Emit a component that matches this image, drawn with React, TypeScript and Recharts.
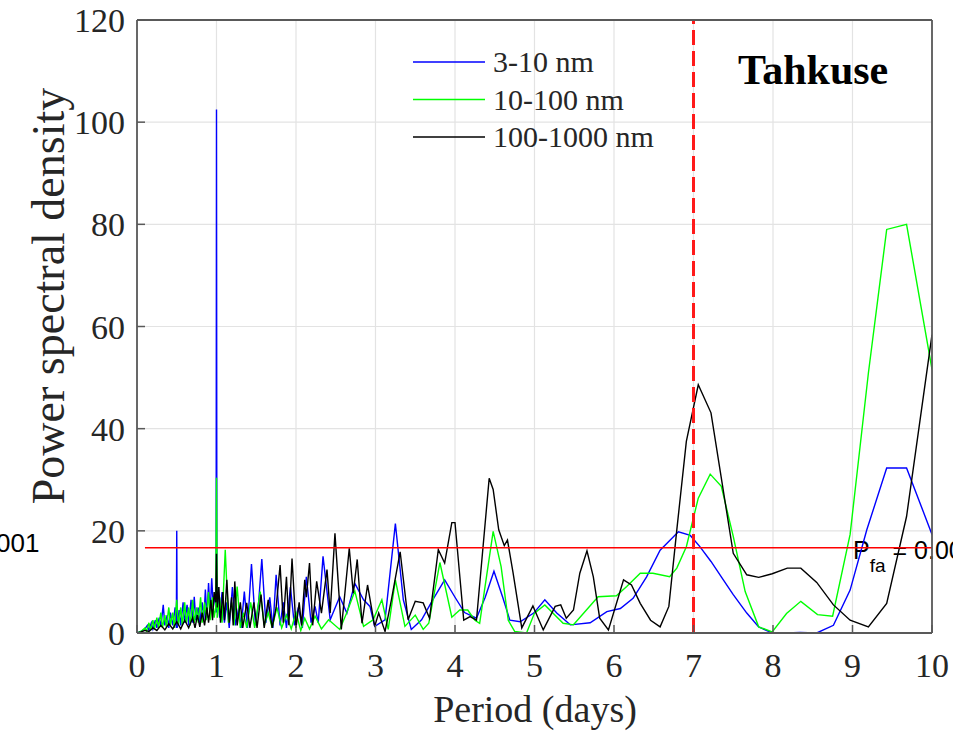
import React from "react";
import { LineChart, Line, XAxis, YAxis, CartesianGrid, ReferenceLine } from "recharts";

const PERIOD_TICKS = [0, 1, 2, 3, 4, 5, 6, 7, 8, 9, 10];
const PSD_TICKS = [0, 20, 40, 60, 80, 100, 120];
const PFA_LEVEL = 16.7;
const MARK_PERIOD = 7;
const SERIES_NAMES = ["3-10 nm", "10-100 nm", "100-1000 nm"];
const SERIES_COLORS = ["#0000ff", "#00ff00", "#000000"];
const TITLE = "Tahkuse";

const blue3to10: [number, number][] = [
  [0, 0], [0.05, 0.3], [0.1, 0.8], [0.13, 1.5], [0.15, 0.5], [0.18, 2.0], [0.2, 0.8], [0.23, 2.5], [0.25, 1.0],
  [0.28, 3.0], [0.3, 1.2], [0.33, 5.5], [0.35, 1.5], [0.38, 3.5], [0.4, 1.0], [0.42, 4.0], [0.45, 1.5], [0.48, 5.0],
  [0.495, 1.0], [0.5, 20], [0.505, 1.0], [0.53, 4.5], [0.55, 1.5], [0.58, 6.0], [0.6, 2.0], [0.63, 5.5], [0.65, 1.5],
  [0.68, 6.5], [0.7, 2.0], [0.72, 7.1], [0.74, 2.5], [0.77, 5.0], [0.79, 2.0], [0.82, 6.0], [0.84, 2.5], [0.86, 8.5],
  [0.88, 3.0], [0.9, 9.8], [0.92, 4.0], [0.94, 10.7], [0.96, 5.0], [0.98, 8.0], [0.995, 4.0], [1.0, 102.5], [1.005, 4.0],
  [1.02, 9.0], [1.04, 3.0], [1.07, 8.0], [1.1, 2.0], [1.13, 6.0], [1.16, 1.0], [1.2, 9.0], [1.24, 1.5], [1.28, 5.0],
  [1.31, 1.0], [1.35, 8.1], [1.39, 1.0], [1.44, 13.5], [1.49, 1.5], [1.53, 6.0], [1.57, 14.5], [1.62, 2.0], [1.67, 7.0],
  [1.71, 1.0], [1.75, 11.4], [1.8, 1.5], [1.84, 6.0], [1.88, 1.0], [1.93, 9.0], [1.98, 1.5], [2.03, 5.0], [2.08, 1.0],
  [2.13, 11.0], [2.19, 2.0], [2.24, 5.2], [2.28, 2.0], [2.34, 15.0], [2.43, 2.6], [2.55, 7.1], [2.64, 3.9], [2.74, 9.7],
  [2.85, 6.5], [2.93, 5.2], [2.99, 1.3], [3.12, 2.6], [3.25, 21.4], [3.35, 6.5], [3.45, 0.7], [3.58, 2.6], [3.72, 6.5],
  [3.87, 10.4], [4.0, 7.0], [4.12, 4.0], [4.27, 2.9], [4.38, 7.0], [4.49, 12.1], [4.6, 7.0], [4.69, 2.5], [4.82, 2.2],
  [4.99, 3.9], [5.13, 6.5], [5.28, 3.9], [5.45, 1.6], [5.7, 2.0], [5.91, 4.2], [6.08, 4.8], [6.24, 6.8], [6.41, 11.0],
  [6.58, 16.2], [6.81, 19.8], [6.96, 19.1], [7.08, 16.9], [7.22, 14.0], [7.35, 11.0], [7.5, 7.5], [7.67, 3.9],
  [7.82, 1.2], [7.99, 0], [8.17, 0], [8.34, 0.1], [8.55, 0], [8.76, 1.5], [8.97, 8.4], [9.18, 20.2], [9.43, 32.3],
  [9.68, 32.3], [10, 19.3],
];

const green10to100: [number, number][] = [
  [0, 0], [0.05, 0.3], [0.1, 1.0], [0.12, 0.3], [0.15, 2.0], [0.17, 0.5], [0.2, 2.5], [0.22, 0.8], [0.25, 3.0],
  [0.27, 1.0], [0.3, 4.0], [0.32, 1.0], [0.35, 3.5], [0.37, 1.2], [0.4, 5.0], [0.42, 1.5], [0.45, 4.0], [0.47, 1.0],
  [0.5, 6.5], [0.52, 1.5], [0.55, 5.0], [0.57, 1.5], [0.6, 6.0], [0.62, 2.0], [0.65, 5.0], [0.67, 1.5], [0.7, 6.5],
  [0.72, 2.0], [0.75, 5.0], [0.77, 2.0], [0.8, 7.0], [0.82, 2.0], [0.85, 6.0], [0.87, 2.5], [0.9, 8.0], [0.92, 2.5],
  [0.95, 7.0], [0.97, 3.0], [0.99, 5.0], [1.0, 30.4], [1.01, 3.0], [1.04, 7.0], [1.07, 2.0], [1.11, 16.3], [1.15, 2.0],
  [1.19, 6.0], [1.22, 1.5], [1.26, 9.1], [1.3, 1.0], [1.34, 4.0], [1.38, 1.0], [1.43, 6.0], [1.48, 1.0], [1.55, 8.1],
  [1.6, 1.5], [1.65, 4.0], [1.7, 1.0], [1.76, 5.0], [1.82, 1.0], [1.88, 3.5], [1.94, 0.8], [2.0, 4.0], [2.06, 0.5],
  [2.11, 2.9], [2.17, 0.8], [2.24, 3.3], [2.32, 0.8], [2.41, 2.6], [2.55, 0.7], [2.64, 4.0], [2.74, 8.2], [2.85, 1.3],
  [2.97, 2.6], [3.08, 6.5], [3.16, 0.7], [3.25, 10.4], [3.37, 1.3], [3.5, 3.5], [3.6, 0.7], [3.67, 1.9], [3.81, 13.8],
  [3.96, 3.1], [4.06, 4.5], [4.16, 4.5], [4.25, 2.5], [4.31, 1.9], [4.48, 19.9], [4.58, 13.0], [4.67, 2.5], [4.75, 0.3],
  [4.9, 0], [5.0, 3.9], [5.13, 5.5], [5.36, 1.9], [5.49, 1.6], [5.8, 7.1], [6.03, 7.3], [6.16, 9.1], [6.33, 11.7],
  [6.49, 11.7], [6.7, 11.0], [6.79, 12.7], [6.91, 16.9], [7.06, 26.4], [7.21, 31.1], [7.35, 28.7], [7.5, 18.9],
  [7.65, 8.1], [7.82, 1.2], [7.99, 0.2], [8.17, 3.8], [8.35, 6.2], [8.56, 3.6], [8.75, 3.3], [8.97, 19.3], [9.2, 50.9],
  [9.43, 79.0], [9.68, 80.0], [10, 51.6],
];

const black100to1000: [number, number][] = [
  [0, 0], [0.05, 0.2], [0.1, 0.5], [0.15, 0.3], [0.2, 1.0], [0.25, 0.5], [0.3, 1.5], [0.35, 0.6], [0.4, 1.8],
  [0.45, 0.8], [0.5, 2.2], [0.55, 0.8], [0.6, 2.5], [0.65, 1.0], [0.7, 3.0], [0.73, 1.0], [0.76, 3.5], [0.79, 1.2],
  [0.82, 4.0], [0.85, 1.5], [0.88, 5.0], [0.9, 2.0], [0.93, 6.5], [0.95, 2.5], [0.97, 8.0], [0.99, 6.0], [1.0, 15.5],
  [1.01, 5.0], [1.03, 9.0], [1.05, 2.0], [1.08, 8.0], [1.1, 2.5], [1.13, 10.4], [1.16, 2.0], [1.19, 7.0], [1.21, 1.5],
  [1.23, 10.1], [1.26, 1.5], [1.3, 6.0], [1.33, 1.0], [1.38, 5.9], [1.42, 1.0], [1.47, 6.0], [1.51, 1.0], [1.56, 7.5],
  [1.6, 1.0], [1.65, 6.5], [1.7, 1.0], [1.75, 5.0], [1.8, 13.3], [1.84, 2.0], [1.88, 11.0], [1.91, 1.5], [1.95, 14.6],
  [2.0, 1.0], [2.04, 6.0], [2.07, 1.5], [2.11, 10.4], [2.13, 7.0], [2.17, 13.7], [2.21, 1.5], [2.26, 10.1], [2.32, 3.9],
  [2.39, 12.4], [2.43, 3.9], [2.49, 19.5], [2.57, 0.7], [2.67, 16.6], [2.72, 7.8], [2.77, 14.4], [2.83, 1.9], [2.9, 9.4],
  [2.99, 1.3], [3.04, 3.9], [3.12, 0.3], [3.2, 6.5], [3.31, 15.9], [3.41, 2.6], [3.5, 6.2], [3.6, 5.9], [3.68, 2.9],
  [3.79, 16.3], [3.87, 13.7], [3.96, 21.6], [4.0, 21.6], [4.11, 2.5], [4.19, 3.2], [4.27, 2.5], [4.43, 30.3],
  [4.48, 28.1], [4.55, 20.2], [4.62, 17.1], [4.66, 18.2], [4.73, 11.8], [4.84, 1.0], [4.98, 5.3], [5.11, 0.6],
  [5.26, 5.2], [5.33, 5.5], [5.4, 2.9], [5.49, 4.5], [5.57, 11.7], [5.66, 16.1], [5.74, 11.0], [5.82, 2.9], [5.93, 0.6],
  [6.12, 10.4], [6.22, 9.4], [6.33, 5.8], [6.46, 2.5], [6.58, 1.2], [6.69, 5.2], [6.79, 20.2], [6.91, 37.5], [7.06, 48.6],
  [7.22, 43.1], [7.5, 15.6], [7.67, 11.4], [7.82, 10.9], [7.99, 11.6], [8.18, 12.7], [8.35, 12.7], [8.55, 9.9],
  [8.76, 5.5], [8.97, 2.5], [9.2, 1.2], [9.43, 5.8], [9.68, 22.8], [10, 58.4],
];

const SERIES = [blue3to10, green10to100, black100to1000];
const toRows = (pairs: [number, number][]) => pairs.map(([x, y]) => ({ x, y }));

const AXIS = "#595959";
const GRID = "#e3e3e3";
const TEXT = "#262626";
const SERIF = "'Liberation Serif', 'Times New Roman', serif";
const SANS = "'Liberation Sans', Arial, sans-serif";
const TICK_LEN = 8;

const bottomTick = (props: any) => {
  const { x, y, payload } = props;
  return (
    <g>
      <line x1={x} x2={x} y1={y} y2={y - TICK_LEN} stroke={AXIS} strokeWidth={1.5} />
      <text x={x} y={y + 44} textAnchor="middle" fontSize={34} fontFamily={SERIF} fill={TEXT}>
        {payload.value}
      </text>
    </g>
  );
};

const topTick = (props: any) => {
  const { x, y } = props;
  return <line x1={x} x2={x} y1={y} y2={y + TICK_LEN} stroke={AXIS} strokeWidth={1.5} />;
};

const leftTick = (props: any) => {
  const { x, y, payload } = props;
  return (
    <g>
      <line x1={x} x2={x + TICK_LEN} y1={y} y2={y} stroke={AXIS} strokeWidth={1.5} />
      <text x={x - 12} y={y + 12} textAnchor="end" fontSize={34} fontFamily={SERIF} fill={TEXT}>
        {payload.value}
      </text>
    </g>
  );
};

const rightTick = (props: any) => {
  const { x, y } = props;
  return <line x1={x} x2={x - TICK_LEN} y1={y} y2={y} stroke={AXIS} strokeWidth={1.5} />;
};

export default function App() {
  return (
    <div style={{ position: "absolute", left: 0, top: 0, width: 953, height: 731, background: "#fff" }}>
      <LineChart width={953} height={731} margin={{ top: 19, right: 20, bottom: 58, left: 77 }}>
        <CartesianGrid stroke={GRID} strokeWidth={1.2} verticalValues={PERIOD_TICKS} horizontalValues={PSD_TICKS} />
        <XAxis
          xAxisId={0}
          dataKey="x"
          type="number"
          domain={[0, 10]}
          ticks={PERIOD_TICKS}
          allowDataOverflow
          height={40}
          tickSize={0}
          tickMargin={0}
          tick={bottomTick}
          tickLine={false}
          interval={0}
          axisLine={{ stroke: AXIS, strokeWidth: 1.8 }}
        />
        <XAxis
          xAxisId="top"
          orientation="top"
          type="number"
          domain={[0, 10]}
          ticks={PERIOD_TICKS}
          height={1}
          tickSize={0}
          tickMargin={0}
          tick={topTick}
          tickLine={false}
          interval={0}
          axisLine={{ stroke: AXIS, strokeWidth: 1.8 }}
        />
        <YAxis
          yAxisId={0}
          type="number"
          domain={[0, 120]}
          ticks={PSD_TICKS}
          allowDataOverflow
          width={60}
          tickSize={0}
          tickMargin={0}
          tick={leftTick}
          tickLine={false}
          interval={0}
          axisLine={{ stroke: AXIS, strokeWidth: 1.8 }}
        />
        <YAxis
          yAxisId="right"
          orientation="right"
          type="number"
          domain={[0, 120]}
          ticks={PSD_TICKS}
          width={1}
          tickSize={0}
          tickMargin={0}
          tick={rightTick}
          tickLine={false}
          interval={0}
          axisLine={{ stroke: AXIS, strokeWidth: 1.8 }}
        />
        {SERIES.map((s, i) => (
          <Line
            key={SERIES_NAMES[i]}
            data={toRows(s)}
            dataKey="y"
            name={SERIES_NAMES[i]}
            type="linear"
            stroke={SERIES_COLORS[i]}
            strokeWidth={1.4}
            dot={false}
            isAnimationActive={false}
          />
        ))}
        <ReferenceLine
          segment={[{ x: 0.1, y: PFA_LEVEL }, { x: 10, y: PFA_LEVEL }]}
          stroke="#ff0000"
          strokeWidth={1.5}
        />
        <ReferenceLine x={MARK_PERIOD} stroke="#ff1a1a" strokeWidth={3} strokeDasharray="15 6" />
        <text x={738} y={84} fontSize={42} fontWeight="bold" fontFamily={SERIF} fill="#000">{TITLE}</text>
        {SERIES_NAMES.map((n, i) => (
          <g key={n}>
            <line x1={413} x2={485} y1={62 + i * 37.5} y2={62 + i * 37.5} stroke={SERIES_COLORS[i]} strokeWidth={1.4} />
            <text x={493} y={62 + i * 37.5 + 10} fontSize={30} fontFamily={SERIF} fill={TEXT}>{n}</text>
          </g>
        ))}
        <text x={853} y={559} fontSize={25} fontFamily={SANS} fill="#000">
          P<tspan fontSize={19} dy={13}>fa</tspan><tspan dy={-13}> = 0.001</tspan>
        </text>
        <text x={-4} y={552} fontSize={26} fontFamily={SANS} fill="#000">001</text>
        <text x={535} y={722} textAnchor="middle" fontSize={38} fontFamily={SERIF} fill={TEXT}>Period (days)</text>
        <text
          x={48}
          y={296}
          transform="rotate(-90 48 296)"
          textAnchor="middle"
          dominantBaseline="central"
          fontSize={46}
          fontFamily={SERIF}
          fill={TEXT}
        >
          Power spectral density
        </text>
      </LineChart>
    </div>
  );
}
